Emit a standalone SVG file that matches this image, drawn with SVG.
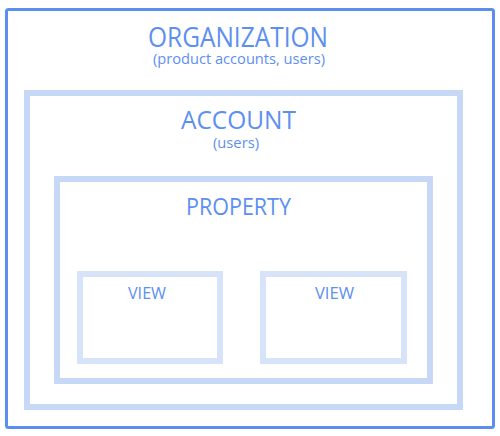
<svg xmlns="http://www.w3.org/2000/svg" width="500" height="436" viewBox="0 0 500 436">
<style>
.t{font-family:"Open Sans","Liberation Sans",sans-serif;fill:#5d8ff0;text-anchor:middle}
.outer{fill:#fff;stroke:#5b8ef0;stroke-width:3}
.mid{fill:none;stroke:#c6d8f6;stroke-width:6}
.view{fill:none;stroke:#d6e3f9;stroke-width:6}
</style>
<rect width="500" height="436" fill="#fff"/>
<g id="organization">
<rect class="outer" x="6.5" y="9.5" width="487" height="418" rx="2"/>
<text class="t" x="238" y="47" font-size="27" textLength="180" lengthAdjust="spacingAndGlyphs">ORGANIZATION</text>
<text class="t" x="239" y="64" font-size="14.5" textLength="172" lengthAdjust="spacingAndGlyphs">(product accounts, users)</text>
</g>
<g id="account">
<rect class="mid" x="27" y="93" width="433" height="314"/>
<text class="t" x="238.5" y="129" font-size="26" textLength="115" lengthAdjust="spacingAndGlyphs">ACCOUNT</text>
<text class="t" x="236" y="148" font-size="14.5" textLength="46" lengthAdjust="spacingAndGlyphs">(users)</text>
</g>
<g id="property">
<rect class="mid" x="57" y="179" width="373" height="202"/>
<text class="t" x="238.5" y="215" font-size="24" textLength="105" lengthAdjust="spacingAndGlyphs">PROPERTY</text>
</g>
<g id="view1">
<rect class="view" x="80" y="274" width="140" height="87"/>
<text class="t" x="147" y="299" font-size="17" textLength="38" lengthAdjust="spacingAndGlyphs">VIEW</text>
</g>
<g id="view2">
<rect class="view" x="263" y="274" width="141" height="87"/>
<text class="t" x="334.5" y="299" font-size="17" textLength="39" lengthAdjust="spacingAndGlyphs">VIEW</text>
</g>
<g id="connectors"/>
</svg>
